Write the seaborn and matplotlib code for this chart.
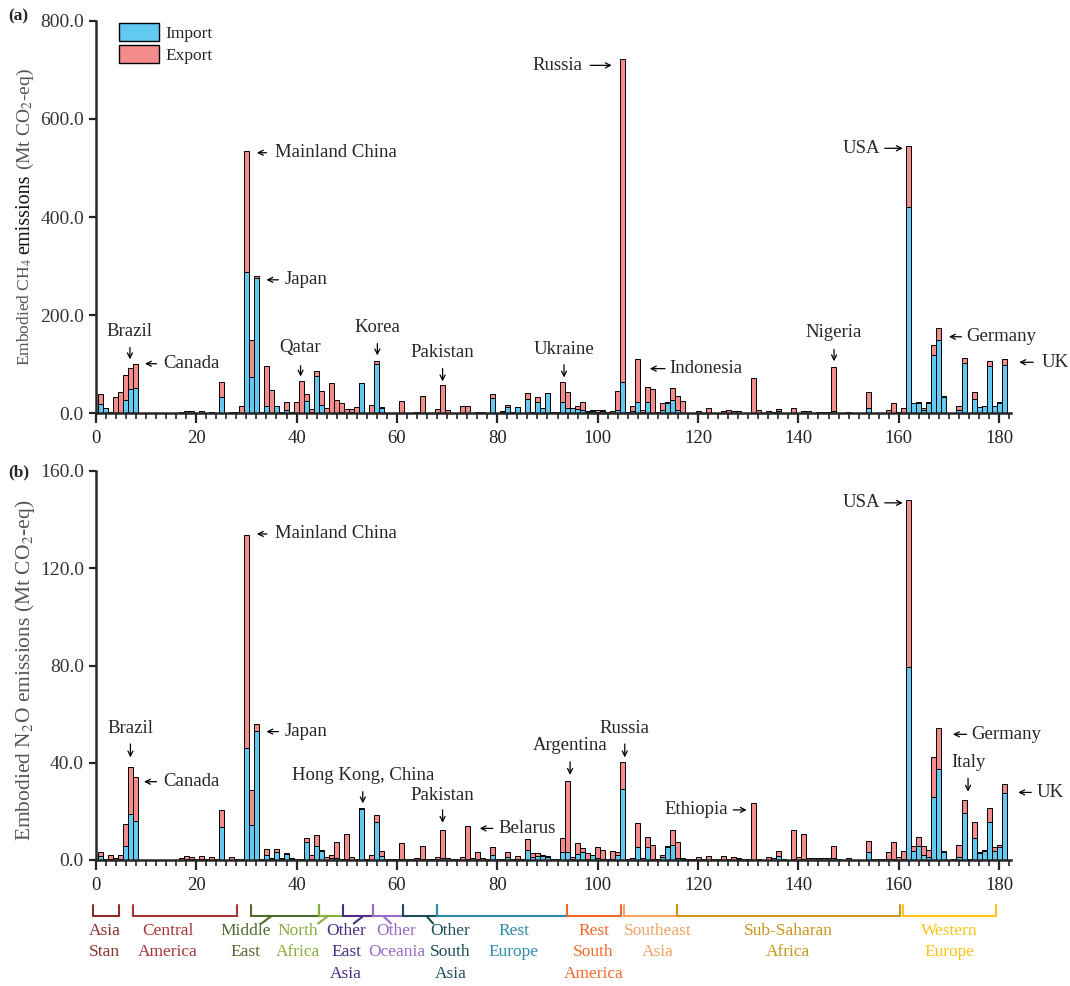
import matplotlib
matplotlib.use("Agg")
import matplotlib.pyplot as plt
import matplotlib.transforms as mtransforms
from matplotlib.patches import Patch
from matplotlib.ticker import FormatStrFormatter, MultipleLocator
import pandas as pd
import seaborn as sns

# ---------------- data (country index 1..181) ----------------
country_idx = list(range(1, 182))

ch4_import = [
    19, 10, 1, 0, 0, 27, 49, 51, 0.5, 0.3,
    0.3, 0.3, 0.3, 0.3, 0.3, 0.5, 0.5, 0.5, 0.5, 0.5,
    0.5, 0.5, 0.5, 0.5, 34, 0.5, 0.5, 0.5, 0.5, 288,
    74, 276, 1, 14, 0.5, 14, 1, 6, 1, 0.5,
    1, 26, 2, 77, 16, 1, 1, 1, 2, 1,
    2, 0.5, 61, 0.5, 0.5, 100, 11, 0.5, 0.3, 0.3,
    1, 0.3, 0.3, 0.5, 0.5, 0.3, 0.3, 0.5, 1, 0.5,
    0.3, 0.3, 0.5, 0.5, 0.3, 2, 2, 0.5, 32, 0.5,
    2, 12, 1, 12, 0.5, 29, 1, 23, 11, 41,
    1, 1, 23, 10, 10, 8, 7, 2, 5, 2,
    5, 1, 1, 6, 64, 1, 5, 24, 2, 24,
    1, 1, 7, 22, 28, 7, 1, 0.5, 0.5, 0.5,
    0.3, 1, 0.5, 0.5, 0.5, 0.5, 0.5, 0.5, 0.3, 0.3,
    0.5, 0.5, 0.3, 0.5, 0.5, 4, 0.3, 0.3, 0.5, 0.3,
    0.5, 0.5, 0.5, 1, 1, 1, 5, 0.3, 0.3, 0.5,
    0.3, 0.3, 0.3, 10, 0.3, 0.3, 0.3, 0.5, 0.5, 1,
    0.5, 420, 20, 21, 7, 22, 119, 150, 34, 0.3,
    0.5, 6, 102, 1, 30, 12, 15, 96, 15, 22, 99,
]
ch4_export = [
    20, 0, 1, 33, 43, 52, 43, 49, 0, 0.2,
    0.2, 0.2, 0.2, 0.2, 0.2, 0.5, 2, 4, 4, 1,
    4, 1, 3, 1, 29, 1, 2, 2, 14, 246,
    76, 3, 1, 83, 47, 0, 2, 18, 2, 23,
    64, 14, 6, 10, 30, 10, 60, 26, 20, 7,
    6, 13, 0, 1, 17, 7, 1, 0.5, 0.2, 0.2,
    24, 0.5, 0.5, 3, 35, 0.5, 0.5, 8, 56, 6,
    0.3, 0.3, 14, 14, 0.5, 1, 1, 0.5, 7, 0.5,
    3, 5, 2, 0.5, 0.5, 13, 1, 10, 0.5, 0.5,
    1, 1, 40, 33, 1, 6, 17, 3, 2, 4,
    1, 1, 4, 40, 658, 2, 9, 86, 4, 30,
    49, 1, 15, 2, 24, 29, 24, 0.5, 0.5, 4,
    0.5, 10, 1, 1, 5, 6, 4, 4, 0.5, 0.5,
    71, 6, 0.5, 4, 3, 4, 0.5, 0.5, 10, 1,
    4, 4, 1, 1, 1, 1, 90, 0.5, 0.5, 3,
    0.3, 0.3, 0.3, 34, 0.3, 0.3, 0.5, 6, 20, 2,
    10, 125, 2, 3, 3, 0.5, 20, 24, 1, 0.3,
    0.5, 9, 11, 0.5, 14, 0.5, 0.5, 11, 0.5, 0.5, 12,
]
n2o_import = [
    1.6, 0.3, 0.3, 0.2, 0.5, 5.6, 18.9, 16.2, 0.1, 0.1,
    0.1, 0.1, 0.1, 0.1, 0.1, 0.1, 0.2, 0.3, 0.3, 0.2,
    0.3, 0.2, 0.2, 0.2, 13.7, 0.1, 0.2, 0.2, 0.1, 46.0,
    14.4, 53.2, 0.2, 2.2, 0.3, 3.4, 0.3, 2.5, 0.5, 0.2,
    0.2, 7.3, 0.3, 5.9, 3.8, 0.2, 0.8, 0.8, 0.2, 0.3,
    0.2, 0.2, 20.8, 0.2, 0.2, 15.5, 1.5, 0.2, 0.1, 0.1,
    0.3, 0.1, 0.1, 0.2, 0.3, 0.1, 0.1, 0.3, 0.8, 0.2,
    0.1, 0.1, 0.2, 0.3, 0.2, 0.3, 0.2, 0.1, 2.2, 0.2,
    0.2, 1.4, 0.2, 0.3, 0.1, 4.2, 1.1, 1.8, 1.8, 1.2,
    0.3, 0.2, 3.3, 3.4, 0.3, 2.3, 3.3, 0.3, 1.9, 0.8,
    0.3, 0.2, 0.3, 2.2, 29.2, 0.1, 0.2, 5.5, 0.2, 5.5,
    0.3, 0.1, 1.2, 5.5, 6.3, 1.0, 0.3, 0.1, 0.1, 0.2,
    0.1, 0.2, 0.1, 0.1, 0.2, 0.1, 0.2, 0.3, 0.1, 0.1,
    0.2, 0.1, 0.1, 0.2, 0.2, 1.8, 0.1, 0.1, 0.3, 0.2,
    0.3, 0.2, 0.2, 0.2, 0.2, 0.2, 0.8, 0.1, 0.1, 0.2,
    0.1, 0.1, 0.1, 3.2, 0.1, 0.1, 0.1, 0.3, 0.3, 0.2,
    0.3, 79.4, 3.8, 5.9, 2.2, 1.4, 25.8, 37.3, 3.2, 0.1,
    0.1, 1.1, 19.2, 0.3, 8.9, 2.7, 3.8, 15.5, 3.6, 5.5, 27.4,
]
n2o_export = [
    1.8, 0.3, 1.9, 0.5, 1.7, 9.2, 19.2, 17.9, 0.1, 0.1,
    0.1, 0.1, 0.1, 0.1, 0.1, 0.1, 0.6, 1.3, 1.1, 0.3,
    1.5, 0.2, 1.0, 0.2, 6.8, 0.1, 1.0, 0.3, 0.2, 87.7,
    14.4, 2.7, 0.3, 2.3, 0.7, 1.1, 0.7, 0.2, 0.5, 0.3,
    0.3, 1.7, 1.9, 4.5, 0.2, 1.2, 1.4, 6.7, 0.3, 10.4,
    0.9, 0.3, 0.4, 0.3, 2.0, 3.0, 2.1, 0.3, 0.2, 0.2,
    6.5, 0.2, 0.2, 0.5, 5.3, 0.2, 0.2, 0.8, 11.5, 0.5,
    0.2, 0.2, 0.9, 13.8, 0.8, 2.9, 0.6, 0.2, 3.0, 0.3,
    0.3, 1.8, 0.3, 1.3, 0.3, 4.3, 1.6, 0.9, 0.3, 0.3,
    0.2, 0.3, 5.8, 29.1, 1.1, 4.7, 1.8, 2.4, 0.3, 4.4,
    3.8, 0.3, 3.5, 1.2, 11.2, 0.2, 0.5, 9.7, 0.5, 4.1,
    6.0, 0.2, 1.0, 0.3, 6.2, 6.2, 0.4, 0.2, 0.2, 0.9,
    0.2, 1.4, 0.2, 0.2, 1.4, 0.3, 0.9, 0.6, 0.2, 0.2,
    23.1, 0.2, 0.1, 0.9, 0.5, 2.0, 0.2, 0.1, 12.2, 0.9,
    10.4, 0.5, 0.5, 0.5, 0.7, 0.5, 5.0, 0.2, 0.1, 0.5,
    0.1, 0.1, 0.1, 4.7, 0.2, 0.2, 0.2, 2.9, 7.2, 1.2,
    3.3, 68.6, 1.8, 3.7, 3.4, 2.7, 16.4, 16.9, 0.4, 0.1,
    0.2, 5.1, 5.6, 0.2, 6.6, 0.5, 0.3, 5.9, 1.6, 0.8, 3.7,
]

region_names = ["Asia\nStan", "Central\nAmerica", "Middle\nEast", "North\nAfrica",
                "Other\nEast\nAsia", "Other\nOceania", "Other\nSouth\nAsia", "Rest\nEurope",
                "Rest\nSouth\nAmerica", "Southeast\nAsia", "Sub-Saharan\nAfrica", "Western\nEurope"]
region_start = [-0.5, 7.5, 30.9, 44.5, 49.3, 55.3, 61.3, 67.9, 93.8, 105.3, 115.9, 160.9]
region_end = [4.6, 28.1, 44.5, 49.3, 55.3, 61.3, 67.9, 93.8, 104.6, 115.9, 160.2, 179.4]
region_text_x = [1.8, 14.4, 29.9, 40.3, 49.9, 59.9, 70.7, 83.3, 99.2, 111.9, 138.0, 170.0]
region_colors = ["#8B2E2E", "#A83434", "#50692C", "#86B03A", "#4B2E83", "#9A6BC6",
                 "#1F4E5A", "#2E8BAA", "#F0692A", "#F5A263", "#C9961A", "#FFC21A"]
# leader lines (bracket point -> text point) for crowded labels
leader = {2: (35.0, 33.0), 3: (46.3, 44.3), 4: (53.3, 51.4), 5: (57.3, 58.8), 6: (65.9, 67.2)}

for arr in (ch4_import, ch4_export, n2o_import, n2o_export):
    assert len(arr) == 181, len(arr)

IMP_C = "#62C9F1"
EXP_C = "#F58C8C"

sns.set_style("ticks")
plt.rcParams["font.family"] = ["Liberation Serif", "DejaVu Serif"]
plt.rcParams["mathtext.fontset"] = "stix"

fig = plt.figure(figsize=(10.70, 9.86), dpi=100)
W, H = 1070.0, 986.0
ax1 = fig.add_axes([95.8 / W, (H - 413.3) / H, (1010.7 - 95.8) / W, (413.3 - 20.7) / H])
ax2 = fig.add_axes([95.8 / W, (H - 860.0) / H, (1010.7 - 95.8) / W, (860.0 - 471.0) / H])


def draw_panel(ax, imp, exp, ymax, ystep):
    total = [a + b for a, b in zip(imp, exp)]
    df = pd.DataFrame({"idx": country_idx, "total": total, "imp": imp})
    sns.barplot(data=df, x="idx", y="total", native_scale=True, width=1.0, color=EXP_C,
                saturation=1, edgecolor="black", linewidth=0.7, errorbar=None, ax=ax)
    sns.barplot(data=df, x="idx", y="imp", native_scale=True, width=1.0, color=IMP_C,
                saturation=1, edgecolor="black", linewidth=0.7, errorbar=None, ax=ax)
    ax.set_xlim(0, 182.3)
    ax.set_ylim(0, ymax)
    ax.set_xlabel("")
    ax.set_ylabel("")
    ax.set_xticks(range(0, 181, 20))
    ax.xaxis.set_minor_locator(MultipleLocator(2))
    ax.yaxis.set_major_locator(MultipleLocator(ystep))
    ax.yaxis.set_major_formatter(FormatStrFormatter("%.1f"))
    sns.despine(ax=ax)
    for s in ("left", "bottom"):
        ax.spines[s].set_linewidth(1.8)
    ax.tick_params(axis="x", which="major", length=7, width=1.6, direction="out",
                   labelsize=13.5, labelcolor="#222", pad=5)
    ax.tick_params(axis="x", which="minor", length=4, width=1.2, direction="out")
    ax.tick_params(axis="y", which="major", length=5, width=1.6, direction="out",
                   labelsize=14, labelcolor="#333")


draw_panel(ax1, ch4_import, ch4_export, 800, 200)
draw_panel(ax2, n2o_import, n2o_export, 160, 40)

FS = 13.5
AP = dict(arrowstyle="->", lw=0.9, color="black", shrinkA=0, shrinkB=0, mutation_scale=9)


def lab_left(ax, name, x_head, x_tail, x_text, y):
    ax.annotate("", xy=(x_head, y), xytext=(x_tail, y), arrowprops=AP, annotation_clip=False)
    ax.text(x_text, y, name, ha="left", va="center", fontsize=FS, clip_on=False)


def lab_right(ax, name, x_text, x_tail, x_head, y):
    ax.annotate("", xy=(x_head, y), xytext=(x_tail, y), arrowprops=AP, annotation_clip=False)
    ax.text(x_text, y, name, ha="right", va="center", fontsize=FS, clip_on=False)


def lab_down(ax, name, x, y_text, y_tail, y_head):
    ax.annotate("", xy=(x, y_head), xytext=(x, y_tail), arrowprops=AP, annotation_clip=False)
    ax.text(x, y_text, name, ha="center", va="center", fontsize=FS, clip_on=False)


# panel (a) labels
lab_down(ax1, "Brazil", 6.8, 166, 134, 110)
lab_left(ax1, "Canada", 9.8, 12.1, 13.4, 101)
lab_left(ax1, "Mainland China", 32.1, 34.0, 35.7, 531)
lab_left(ax1, "Japan", 34.0, 36.4, 37.7, 272)
lab_down(ax1, "Qatar", 40.8, 134, 97, 75)
lab_down(ax1, "Korea", 56.1, 175, 142, 118)
lab_down(ax1, "Pakistan", 69.1, 123, 91, 65)
lab_down(ax1, "Ukraine", 93.3, 131, 99, 73)
lab_right(ax1, "Russia", 97.0, 98.5, 102.8, 709)
lab_left(ax1, "Indonesia", 110.4, 113.4, 114.2, 91)
lab_down(ax1, "Nigeria", 147.1, 164, 130, 106)
lab_right(ax1, "USA", 156.2, 157.2, 160.8, 540)
lab_left(ax1, "Germany", 170.0, 172.5, 173.5, 156)
lab_left(ax1, "UK", 184.0, 186.8, 188.4, 104)

# panel (b) labels
lab_down(ax2, "Brazil", 6.9, 54.2, 47.7, 42.2)
lab_left(ax2, "Canada", 9.6, 12.1, 13.4, 32.2)
lab_left(ax2, "Mainland China", 32.1, 34.1, 35.7, 134.1)
lab_left(ax2, "Japan", 34.0, 36.4, 37.7, 52.8)
lab_down(ax2, "Hong Kong, China", 53.2, 34.7, 28.1, 23.3)
lab_down(ax2, "Pakistan", 69.1, 26.7, 20.6, 15.3)
lab_left(ax2, "Belarus", 76.5, 79.1, 80.2, 13.0)
lab_down(ax2, "Argentina", 94.5, 47.0, 40.4, 35.0)
lab_down(ax2, "Russia", 105.4, 53.9, 47.7, 42.2)
lab_right(ax2, "Ethiopia", 125.9, 127.0, 129.7, 20.6)
lab_right(ax2, "USA", 156.2, 157.2, 160.8, 146.9)
lab_left(ax2, "Germany", 170.8, 173.5, 174.5, 51.7)
lab_down(ax2, "Italy", 173.8, 40.0, 33.6, 28.1)
lab_left(ax2, "UK", 183.8, 186.4, 187.4, 27.8)

# panel tags
fig.text(8 / W, (H - 16) / H, "(a)", fontsize=12.5, fontweight="bold", va="center", ha="left")
fig.text(8 / W, (H - 472) / H, "(b)", fontsize=12.5, fontweight="bold", va="center", ha="left")

# y labels (panel a uses mixed sizes, placed end to end)
fig.text(25 / W, (H - 366) / H, "Embodied CH$_4$", rotation=90, rotation_mode="anchor",
         fontsize=12.5, color="#555", ha="left", va="center")
fig.text(25 / W, (H - 254) / H, "emissions", rotation=90, rotation_mode="anchor",
         fontsize=14.5, color="#111", ha="left", va="center")
fig.text(25 / W, (H - 170) / H, "(Mt CO$_2$-eq)", rotation=90, rotation_mode="anchor",
         fontsize=14, color="#555", ha="left", va="center")
fig.text(25 / W, (H - 670) / H, "Embodied N$_2$O emissions (Mt CO$_2$-eq)", rotation=90,
         fontsize=15.5, color="#555", ha="center", va="center")

# legend
handles = [Patch(facecolor=IMP_C, edgecolor="black", linewidth=1.0, label="Import"),
           Patch(facecolor=EXP_C, edgecolor="black", linewidth=1.0, label="Export")]
fig.legend(handles=handles, loc="upper left", bbox_to_anchor=(119 / W, (H - 23) / H),
           frameon=False, fontsize=12.5, handlelength=2.3, handleheight=1.25,
           labelspacing=0.15, handletextpad=0.35, borderpad=0, borderaxespad=0)

# region brackets under panel (b)
tr = mtransforms.blended_transform_factory(ax2.transData, fig.transFigure)
y_top = (H - 905) / H
y_line = (H - 916) / H
y_lead = (H - 923.5) / H
y_text = (H - 923) / H
for k, name in enumerate(region_names):
    c = region_colors[k]
    x0, x1 = region_start[k], region_end[k]
    fig.add_artist(plt.Line2D([x0, x0, x1, x1], [y_top, y_line, y_line, y_top], transform=tr,
                              color=c, lw=1.5, solid_joinstyle="miter"))
    if k in leader:
        a, b = leader[k]
        fig.add_artist(plt.Line2D([a, b], [y_line, y_lead], transform=tr, color=c, lw=1.5))
    fig.text(region_text_x[k], y_text, name, transform=tr, color=c, fontsize=12.5,
             ha="center", va="top", linespacing=1.45)

fig.savefig("out.png", dpi=100)
